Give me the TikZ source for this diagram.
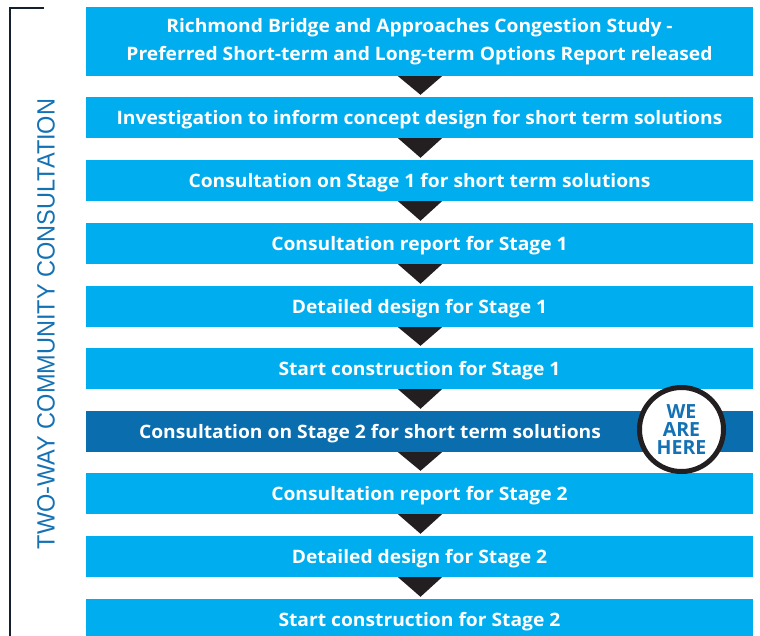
\documentclass[tikz,border=0pt]{standalone}
\usepackage{fontspec}
\setmainfont[FakeStretch=1.04]{Open Sans}
\newfontfamily\badgefont{Open Sans}
\newfontfamily\vfont[FakeStretch=0.94]{Liberation Sans}
\usetikzlibrary{calc}
\definecolor{barblue}{HTML}{00AEEF}
\definecolor{darkblue}{HTML}{0A6DAE}
\definecolor{triblack}{HTML}{231F20}
\definecolor{textblue}{HTML}{1371B4}
\definecolor{bracketc}{HTML}{14202E}
\begin{document}
\begin{tikzpicture}[x=1pt,y=-1pt,
  bar/.style={fill=barblue, draw=none, minimum width=667pt, minimum height=41pt,
    inner sep=0pt, text=white, font=\fontsize{18.5}{28.5}\selectfont\bfseries, align=center},
  oneline/.style={text height=13.2pt, text depth=0pt},
  tri/.style={fill=triblack, draw=none},
  badge/.style={circle, draw=triblack, line width=5pt, fill=white, minimum size=84pt,
    inner sep=0pt, text=textblue, align=center, font=\badgefont\fontsize{19.5}{18}\selectfont\bfseries},
  vtext/.style={rotate=90, text=textblue, inner sep=0pt, font=\vfont\fontsize{25}{25}\selectfont}]
\useasboundingbox (0,0) rectangle (760,635);
\node[bar, minimum height=69pt] (b1) at (419.5,41.5) {Richmond Bridge and Approaches Congestion Study -\\Preferred Short-term and Long-term Options Report released};
\node[bar, oneline] (b2) at (419.5,117.5) {Investigation to inform concept design for short term solutions};
\node[bar, oneline] (b3) at (419.5,180.5) {Consultation on Stage 1 for short term solutions};
\node[bar, oneline] (b4) at (419.5,243.5) {Consultation report for Stage 1};
\node[bar, oneline] (b5) at (419.5,306.5) {Detailed design for Stage 1};
\node[bar, oneline] (b6) at (419.5,368.5) {Start construction for Stage 1};
\node[bar, fill=darkblue] (b7) at (419.5,431.5) {};
\node[oneline, text=white, font=\fontsize{18.5}{20}\selectfont\bfseries, inner sep=0pt] (t7) at (370,431.5) {Consultation on Stage 2 for short term solutions};
\node[bar, oneline] (b8) at (419.5,493.5) {Consultation report for Stage 2};
\node[bar, oneline] (b9) at (419.5,556.5) {Detailed design for Stage 2};
\node[bar, oneline] (b10) at (419.5,619.5) {Start construction for Stage 2};
\foreach \a/\b in {b1/b2,b2/b3,b3/b4,b4/b5,b5/b6,b6/b7,b7/b8,b8/b9,b9/b10}{
  \fill[tri] ([xshift=-21.5pt]\a.south) -- ([xshift=22.5pt]\a.south) -- ([xshift=1pt,yshift=2pt]\b.north) -- cycle;
}
\node[badge] (here) at (681.5,429.5) {WE\\ARE\\HERE};
\node[vtext] (vt) at (46,324) {TWO-WAY COMMUNITY CONSULTATION};
\draw[bracketc, line width=2pt] (44,8) -- (9.5,8) -- (9.5,640);
\end{tikzpicture}
\end{document}
